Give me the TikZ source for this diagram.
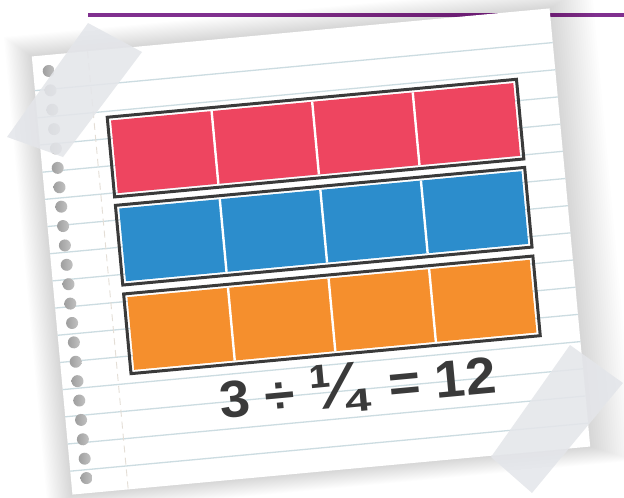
\documentclass[tikz,border=0pt]{standalone}
\usepackage{fontspec}
\usepackage{tikz}
\newfontfamily\contafont{Liberation Sans}
\definecolor{roxo}{HTML}{80308F}
\definecolor{vermelho}{HTML}{EE4560}
\definecolor{azul}{HTML}{2C8DCC}
\definecolor{laranja}{HTML}{F58F2D}
\definecolor{grafite}{HTML}{3A3A3A}
\definecolor{pautaazul}{HTML}{CCDCE1}
\definecolor{margem}{HTML}{E4DED6}
\definecolor{fitacinza}{HTML}{E4E6EA}
\newcommand{\corA}{vermelho}
\newcommand{\corB}{azul}
\newcommand{\corC}{laranja}
\tikzset{
  moldura/.style={draw=grafite, line width=3},
  divisa/.style={white, line width=2.4},
  pauta/.style={pautaazul, line width=1.3},
  fita/.style={fill=fitacinza, fill opacity=0.88},
}

\begin{document}
\begin{tikzpicture}[x=1pt, y=-1pt]
    \useasboundingbox (0,0) rectangle (624,498);

      % linha roxa
    \draw[roxo, line width=3.2] (88,15) -- (624,15);

    \begin{scope}[shift={(311,251.5)}, rotate=5.3]
          % sombra da folha
        \foreach \s in {1,...,20}
          \fill[black, opacity=0.009] (-260-1.3*\s,-220-1.1*\s) rectangle (260+2.2*\s,220+0.9*\s);

          % folha
        \fill[white] (-260,-220) rectangle (260,220);

          % pautas
        \foreach \k in {0,...,14}
          \draw[pauta] (-260,-185.7+27.3*\k) -- (260,-185.7+27.3*\k);

          % margem
        \draw[margem, line width=0.9, dash pattern=on 7pt off 5pt] (-204,-220) -- (-204,220);

          % furos
        \foreach \k in {0,...,21}
          \shade[left color=black!38, right color=black!24] (-244.5,-204+19.47*\k) circle (6);

          % tira 0
        \fill[\corA] (-187,-149) rectangle (217,-76);
        \foreach \j in {1,2,3}
          \draw[divisa] (-187+101*\j,-149) -- (-187+101*\j,-76);
        \draw[moldura] (-190.5,-152.5) rectangle (220.5,-72.5);

          % tira 1
        \fill[\corB] (-187,-60.5) rectangle (217,12.5);
        \foreach \j in {1,2,3}
          \draw[divisa] (-187+101*\j,-60.5) -- (-187+101*\j,12.5);
        \draw[moldura] (-190.5,-64) rectangle (220.5,16);

          % tira 2
        \fill[\corC] (-187,28.5) rectangle (217,101.5);
        \foreach \j in {1,2,3}
          \draw[divisa] (-187+101*\j,28.5) -- (-187+101*\j,101.5);
        \draw[moldura] (-190.5,25) rectangle (220.5,105);

          % conta
        \node[anchor=base, text=grafite, rotate=5.3, xscale=1.05,
              font=\contafont\bfseries\fontsize{52}{52}\selectfont] (conta) at (34,158)
              {3 ÷ {\fontsize{64}{64}\selectfont ¼}\hspace{7pt} = 12};
    \end{scope}

      % fita de cima
    \filldraw[fita, draw=none] (88,23) -- (142,52) -- (63,157) -- (7,137) -- cycle;

      % fita de baixo
    \filldraw[fita, draw=none] (570,345) -- (623,383) -- (532,493) -- (491,457) -- cycle;
\end{tikzpicture}
\end{document}
